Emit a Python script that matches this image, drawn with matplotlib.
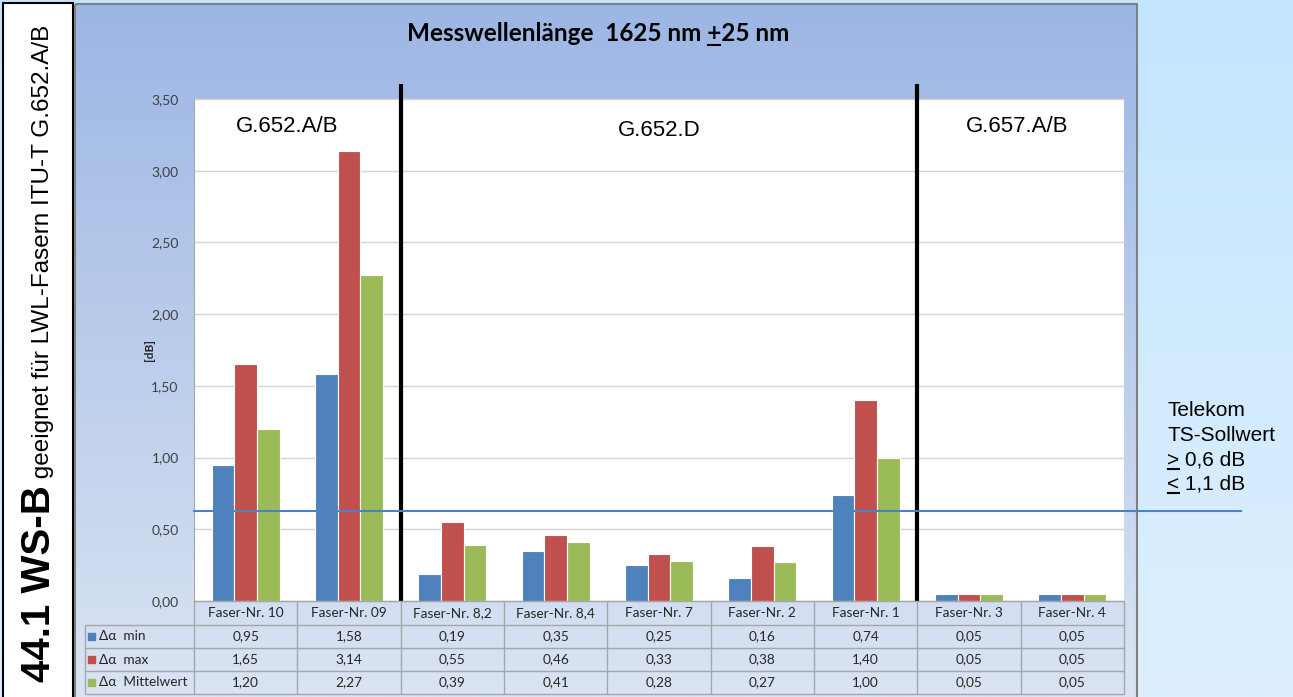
import numpy as np
import matplotlib
matplotlib.use("Agg")
import matplotlib.pyplot as plt
from matplotlib.patches import Rectangle

# ---------------- data ----------------
categories = ["Faser-Nr. 10", "Faser-Nr. 09", "Faser-Nr. 8,2", "Faser-Nr. 8,4",
              "Faser-Nr. 7", "Faser-Nr. 2", "Faser-Nr. 1", "Faser-Nr. 3", "Faser-Nr. 4"]
series_names = ["\u0394\u03b1  min", "\u0394\u03b1  max", "\u0394\u03b1  Mittelwert"]
delta_min = [0.95, 1.58, 0.19, 0.35, 0.25, 0.16, 0.74, 0.05, 0.05]
delta_max = [1.65, 3.14, 0.55, 0.46, 0.33, 0.38, 1.40, 0.05, 0.05]
delta_mittel = [1.20, 2.27, 0.39, 0.41, 0.28, 0.27, 1.00, 0.05, 0.05]
group_names = ["G.652.A/B", "G.652.D", "G.657.A/B"]
group_sizes = [2, 5, 2]
sollwert_line = 0.625
y_ticks = [0.0, 0.5, 1.0, 1.5, 2.0, 2.5, 3.0, 3.5]
y_label = "[dB]"
title_text = "Messwellenlänge  1625 nm +25 nm"
side_bold = "44.1 WS-B"
side_regular = " geeignet für LWL-Fasern ITU-T G.652.A/B"
note_lines = ["Telekom", "TS-Sollwert", "> 0,6 dB", "< 1,1 dB"]

# ---------------- style ----------------
colors = ["#4f81bd", "#c0504d", "#9bbb59"]
W, H = 1293, 697
plt.rcParams['font.family'] = ['Lato', 'DejaVu Sans']
ARIAL = ['Liberation Sans', 'DejaVu Sans']
TXT = '#262626'
GRID = '#d4d4d4'
TBL = '#a6a6a6'

def fmt(v):
    return f"{v:.2f}".replace('.', ',')

fig = plt.figure(figsize=(W / 100, H / 100), dpi=100)

# background layer (pixel coordinates, y downward)
bg = fig.add_axes([0, 0, 1, 1], zorder=0)

def vgrad(axx, x0, x1, y0, y1, ctop, cbot, z):
    t = np.linspace(0, 1, 256)[:, None]
    arr = (1 - t) * np.array(ctop, float) + t * np.array(cbot, float)
    img = np.repeat(arr[:, None, :], 2, axis=1) / 255.0
    axx.imshow(img, extent=(x0, x1, y1, y0), aspect='auto', zorder=z,
               interpolation='bilinear')

vgrad(bg, 0, W, 0, H, (195, 229, 253), (222, 240, 255), 0)
vgrad(bg, 75, 1137, 4, H, (156, 182, 228), (218, 228, 243), 1)
bg.add_patch(Rectangle((75, 4), 1062, H, fill=False, ec='#808080', lw=1.5, zorder=2))
bg.add_patch(Rectangle((3, 3), 70, H + 5, fc='white', ec='black', lw=1.5, zorder=3))
bg.set_xlim(0, W)
bg.set_ylim(H, 0)
bg.axis('off')

# main plot area
pl, pt, pr, pb = 194, 99, 1124, 601
ax = fig.add_axes([pl / W, (H - pb) / H, (pr - pl) / W, (pb - pt) / H], zorder=1)
ax.set_facecolor('white')
n = len(categories)
x = np.arange(n)
bw = 0.22
for k, vals in enumerate([delta_min, delta_max, delta_mittel]):
    ax.bar(x + (k - 1) * bw, vals, width=bw, color=colors[k], edgecolor='white',
           linewidth=0.8, zorder=3)
ax.set_xlim(-0.5, n - 0.5)
ax.set_ylim(y_ticks[0], y_ticks[-1])
ax.set_yticks(y_ticks)
ax.set_yticklabels([fmt(v) for v in y_ticks], fontsize=10, color='#404040')
ax.tick_params(axis='y', length=0, pad=11)
ax.set_xticks([])
ax.yaxis.grid(True, color=GRID, lw=1, zorder=0, clip_on=False)
ax.set_axisbelow(True)
for s in ['top', 'right', 'bottom']:
    ax.spines[s].set_visible(False)
ax.spines['left'].set_color('#a6a6a6')

# pixel helpers
def to_px(xd):
    return ax.transData.transform((xd, 0))[0]

def px_to_data_x(xp):
    return ax.transData.inverted().transform((xp, 0))[0]

units_per_px = (y_ticks[-1] - y_ticks[0]) / (pb - pt)

# group divider lines
bounds_groups = np.cumsum(group_sizes)[:-1] - 0.5
for b in bounds_groups:
    ax.plot([b, b], [0, y_ticks[-1] + 15 * units_per_px], color='black', lw=3,
            clip_on=False, zorder=6, solid_capstyle='butt')

# Telekom reference line
ax.plot([-0.5, px_to_data_x(1241)], [sollwert_line, sollwert_line], color='#4f81bd',
        lw=1.5, clip_on=False, zorder=7)

# overlay layer (pixel coordinates, y downward)
ov = fig.add_axes([0, 0, 1, 1], zorder=3)
ov.set_xlim(0, W)
ov.set_ylim(H, 0)
ov.axis('off')
ov.patch.set_alpha(0)

# group labels
starts = np.concatenate([[0], np.cumsum(group_sizes)[:-1]])
label_dx = [-10, 0, -4]
label_y = [127, 130, 127]
for g, name in enumerate(group_names):
    cx = to_px(starts[g] + (group_sizes[g] - 1) / 2) + label_dx[g]
    ov.text(cx, label_y[g], name, ha='center', va='center', fontsize=16,
            family=ARIAL, color='black')

# y label
ov.text(149, 350, y_label, rotation=90, ha='center', va='center', fontsize=8.5,
        fontweight='bold', color=TXT)

# title with underlined "+"
fig.canvas.draw()
renderer = fig.canvas.get_renderer()
tfs = 17.5
title_base = 41
t = ov.text(598, title_base, title_text, ha='center', va='baseline', fontsize=tfs,
            fontweight='bold', color='black')

def text_width(s, **kw):
    tmp = ov.text(0, 0, s, **kw)
    w = tmp.get_window_extent(renderer).width
    tmp.remove()
    return w

tb = t.get_window_extent(renderer)
plus_i = title_text.index('+')
w_pre = text_width(title_text[:plus_i], fontsize=tfs, fontweight='bold')
w_plus = text_width('+', fontsize=tfs, fontweight='bold')
ux0 = tb.x0 + w_pre
ov.plot([ux0 + 1, ux0 + w_plus - 1], [title_base + 4, title_base + 4], color='black', lw=1.5)

# right annotation
nfs = 15
nx = 1167
nbase = [416, 441, 465, 489]
for line, yb in zip(note_lines, nbase):
    ov.text(nx, yb, line, ha='left', va='baseline', fontsize=nfs, family=ARIAL,
            color='black')
    if line[0] in '<>':
        wsym = text_width(line[0], fontsize=nfs, family=ARIAL)
        ov.plot([nx + 1, nx + wsym], [yb + 4, yb + 4], color='black', lw=1.5)

# left rotated title
sb_fs, sr_fs = 29, 17.5
ybase0 = 682
xbase = 50
ov.text(xbase, ybase0, side_bold, rotation=90, rotation_mode='anchor', ha='left',
        va='baseline', fontsize=sb_fs, fontweight='bold', family=ARIAL, color='black')
wb = text_width(side_bold, fontsize=sb_fs, fontweight='bold', family=ARIAL)
ov.text(xbase - 1, ybase0 - wb, side_regular, rotation=90, rotation_mode='anchor',
        ha='left', va='baseline', fontsize=sr_fs, family=ARIAL, color='black')

# data table
row_edges = [pb, 625, 648, 671, 694]
leg_left = 85
col_bounds = [to_px(i - 0.5) for i in range(n + 1)]
lkw = dict(color=TBL, lw=1, solid_capstyle='butt')
ov.plot([col_bounds[0], col_bounds[-1]], [row_edges[0]] * 2, **lkw)
for yy in row_edges[1:]:
    ov.plot([leg_left, col_bounds[-1]], [yy, yy], **lkw)
for xb in col_bounds:
    ov.plot([xb, xb], [row_edges[0], row_edges[-1]], **lkw)
ov.plot([leg_left, leg_left], [row_edges[1], row_edges[-1]], **lkw)

tfs_tbl = 9.8
for i, c in enumerate(categories):
    ov.text(to_px(i), (row_edges[0] + row_edges[1]) / 2, c, ha='center', va='center',
            fontsize=tfs_tbl, color=TXT)
for k, vals in enumerate([delta_min, delta_max, delta_mittel]):
    yc = (row_edges[k + 1] + row_edges[k + 2]) / 2
    ov.add_patch(Rectangle((88, yc - 3.5), 7, 7, color=colors[k]))
    ov.text(99, yc, series_names[k], ha='left', va='center', fontsize=tfs_tbl, color=TXT)
    for i, v in enumerate(vals):
        ov.text(to_px(i), yc, fmt(v), ha='center', va='center', fontsize=tfs_tbl, color=TXT)

fig.savefig("out.png", dpi=100)
